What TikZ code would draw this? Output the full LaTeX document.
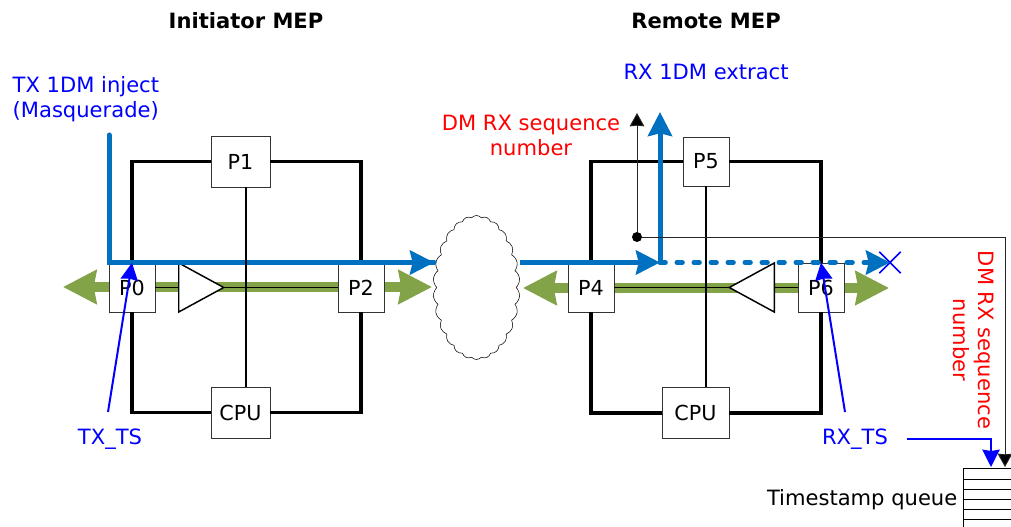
\documentclass[tikz,border=0pt]{standalone}
\usepackage{fontspec}
\setmainfont{DejaVu Sans}
\usetikzlibrary{arrows.meta,shapes.geometric,shapes.symbols,shapes.misc}
\definecolor{mepblue}{RGB}{0,112,192}
\definecolor{mepgreen}{RGB}{130,163,71}
\newcommand{\mepframe}[4]{\draw[frame] (#1) -| (#2); \draw[frame] (#1) -| (#3); \draw[frame] (#4) -| (#2); \draw[frame] (#4) -| (#3);}
\tikzset{
  frame/.style={line width=2.6pt, line join=miter},
  port/.style={draw=black!80, fill=white, minimum width=34.5pt, minimum height=36.75pt, inner sep=0pt, font=\fontsize{15.5}{18}\selectfont},
  portwide/.style={port, minimum width=44.25pt, minimum height=38.25pt},
  amp/.style={draw=black, line width=1.1pt, fill=white, isosceles triangle, isosceles triangle stretches, minimum width=36.75pt, minimum height=33.75pt, inner sep=0pt, anchor=lower side},
  spine/.style={line width=1.1pt},
  flow/.style={mepblue, line width=3.75pt, -{Stealth[length=18pt, width=18pt, inset=2pt]}},
  traffic/.style={mepgreen, line width=7pt, {Stealth[length=25pt, width=25pt, inset=2pt]}-{Stealth[length=25pt, width=25pt, inset=2pt]}},
  stamp/.style={blue, line width=1.5pt, -{Stealth[length=13pt, width=13pt, inset=1pt]}},
  seqline/.style={black!85, line width=.7pt, -{Stealth[length=10pt, width=11pt, inset=.5pt, fill=black]}},
  lbl/.style={font=\fontsize{15.8}{18.75}\selectfont, align=center},
}
\begin{document}
\begin{tikzpicture}[x=0.75pt, y=-0.75pt]
\useasboundingbox (0,0) rectangle (1011,527);
% ends of the flows
\coordinate (txin) at (109,135);
\coordinate (cloudin) at (434,262.5);
\coordinate (cloudout) at (520,262.5);
\coordinate (rxturn) at (660,262.5);
\coordinate (rxtop) at (660,112);
\coordinate (lefttip) at (63,287);
\coordinate (leftend) at (432,287);
\coordinate (righttip) at (523,288);
\coordinate (rightend) at (889,288);
\coordinate (Lmid) at (246,287);
\coordinate (Rmid) at (706,288);
\coordinate (seqtop) at (637,113);
\coordinate (seqdown) at (1005,467);
\coordinate (txtail) at (108,412);
\coordinate (rxtail) at (845,412);
\coordinate (rxstart) at (907,439);
\coordinate (rxend) at (991,467);
% titles
\node[font=\fontsize{15.8}{18}\selectfont\bfseries] (Init) at (246,21) {Initiator MEP};
\node[font=\fontsize{15.8}{18}\selectfont\bfseries] (Rem) at (706,21) {Remote MEP};
\node[lbl, blue, align=left, anchor=west] (TXlab) at (8,99.5) {TX 1DM inject\\(Masquerade)};
\node[lbl, blue] (RXlab) at (706,72) {RX 1DM extract};
\node[lbl, red] (SeqA) at (531,135) {DM RX sequence\\number};
\node[lbl, red, rotate=-90] (SeqB) at (973.5,340) {DM RX sequence\\number};
% green traffic
\draw[traffic] (lefttip) -- (leftend);
\draw[traffic] (righttip) -- (rightend);
% left MEP
\node[port] (P0) at (132,287.5) {P0};
\node[port] (P2) at (361,287.5) {P2};
\node[portwide] (P1) at (240.5,161.5) {P1};
\node[portwide] (CPU1) at (240.5,412.5) {CPU};
\mepframe{P1}{P0}{P2}{CPU1}
\draw[spine] (P0) -- (P2);
\node[amp] (A0) at (178,287.5) {};
% right MEP
\node[port] (P4) at (591,287.5) {P4};
\node[port] (P6) at (821,287.5) {P6};
\node[port] (P5) at (706,161.5) {P5};
\node[portwide, minimum width=50.25pt] (CPU2) at (695.5,413) {CPU};
\mepframe{P5}{P4}{P6}{CPU2}
\draw[spine] (P4) -- (P6);
\node[amp, rotate=180] (A1) at (775,287.5) {};
% cloud
\node[cloud, draw, fill=white, cloud puffs=26, cloud puff arc=100, aspect=0.6, minimum width=65pt, minimum height=108pt, inner sep=0pt] (Cloud) at (476.5,287.5) {};
% blue flows
\draw[flow, -, line cap=round] (txin) |- (cloudin);
\draw[flow] (txin |- cloudin) -- (cloudin);
\draw[flow] (cloudout) -- (rxturn);
\draw[flow] (rxturn) -- (rxtop);
\node[cross out, draw=blue, line width=1.1pt, minimum size=15pt, inner sep=0pt] (Drop) at (890,262.5) {};
\draw[flow, line cap=round, dash pattern=on 4pt off 8.75pt] (rxturn) -- (Drop.center);
% centre lines
\draw[spine] (Lmid |- P1.south) -- (Lmid |- CPU1.north);
\draw[spine] (Rmid |- P5.south) -- (Rmid |- CPU2.north);
% sequence number
\node[circle, fill=black, inner sep=0pt, minimum size=7.5pt] (SeqDot) at (637,237) {};
\draw[seqline] (SeqDot) -- (seqtop);
\draw[seqline] (SeqDot) -| (seqdown);
% time stamps
\node[lbl, blue] (TXTS) at (110,439.5) {TX\_TS};
\node[lbl, blue] (RXTS) at (855,439.5) {RX\_TS};
\draw[stamp] (txtail) -- (P0.north);
\draw[stamp] (rxtail) -- (P6.north);
\draw[stamp] (rxstart) -| (rxend);
% queue
\node[draw, line width=.7pt, anchor=north west, minimum width=60pt, minimum height=60pt] (Queue) at (963,468) {};
\foreach \y in {479,489,499,509,519} {
  \draw[line width=.7pt] (963,\y) -- (1011,\y);
}
\node[lbl, anchor=east] (QLab) at (962,499.5) {Timestamp queue};
\end{tikzpicture}
\end{document}
